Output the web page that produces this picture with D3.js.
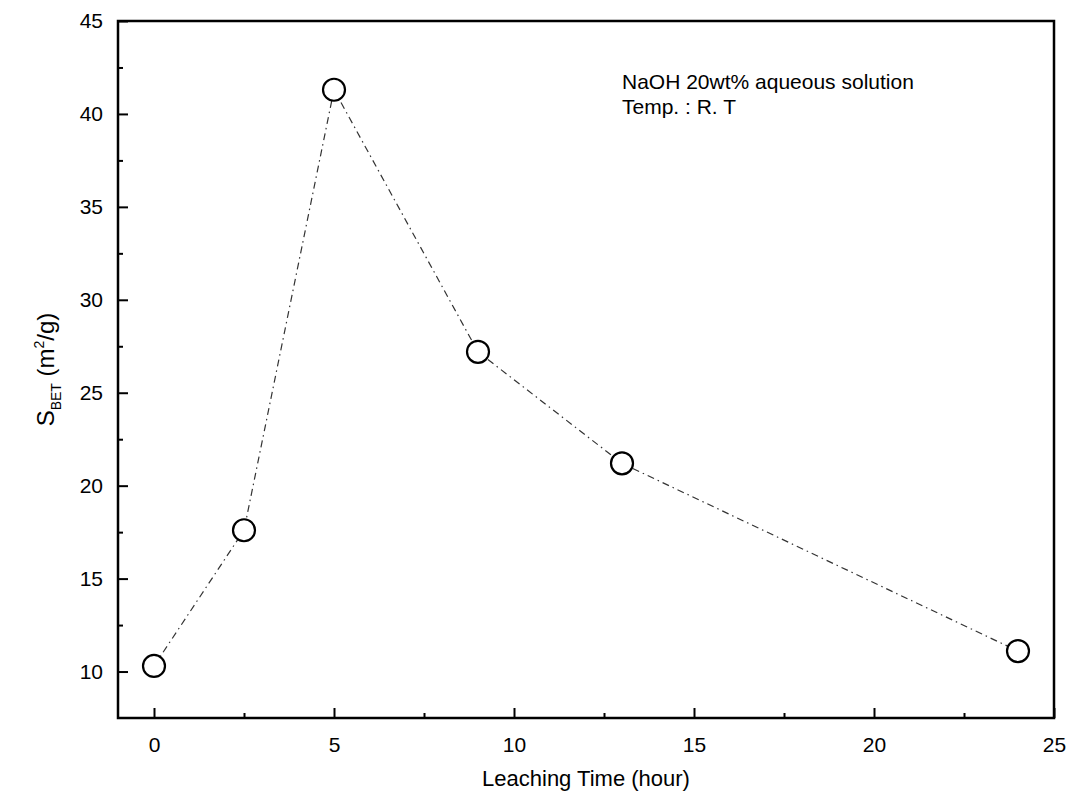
<!DOCTYPE html>
<html>
<head>
<meta charset="utf-8">
<script src="https://cdnjs.cloudflare.com/ajax/libs/d3/7.8.5/d3.min.js"></script>
<style>
  body { margin: 0; background: #fff; }
  text { font-family: Arial, "Liberation Sans", sans-serif; fill: #000; }
</style>
</head>
<body>
<div id="chart"></div>
<script>
// leaching time (hour) vs BET surface area (m2/g)
var hours = [0, 2.5, 5, 9, 13, 24];
var sbet = [10.3, 17.6, 41.3, 27.2, 21.2, 11.1];
var xTicks = [0, 5, 10, 15, 20, 25];
var yTicks = [10, 15, 20, 25, 30, 35, 40, 45];

var width = 1087, height = 801;
var margin = {left: 118, top: 21, right: 33, bottom: 83};

var svg = d3.select("#chart").append("svg")
    .attr("width", width)
    .attr("height", height);

var x = d3.scaleLinear().domain([-1, 25]).range([margin.left, width - margin.right]);
var y = d3.scaleLinear().domain([7.5, 45]).range([height - margin.bottom, margin.top]);

// frame
svg.append("rect")
    .attr("x", x(-1))
    .attr("y", y(45))
    .attr("width", x(25) - x(-1))
    .attr("height", y(7.5) - y(45))
    .attr("fill", "none")
    .attr("stroke", "#000")
    .attr("stroke-width", 2.5);

// bottom axis, ticks point inward
var xAxis = d3.axisBottom(x).tickValues(xTicks).tickSize(-10).tickPadding(19);
var gx = svg.append("g")
    .attr("transform", "translate(0," + y(7.5) + ")")
    .call(xAxis);
gx.select(".domain").remove();
gx.selectAll("line").attr("stroke-width", 2);
gx.selectAll("text").attr("font-size", 21);

var xMinor = d3.axisBottom(x).tickValues([2.5, 7.5, 12.5, 17.5, 22.5]).tickSize(-5).tickFormat("");
var gxm = svg.append("g")
    .attr("transform", "translate(0," + y(7.5) + ")")
    .call(xMinor);
gxm.select(".domain").remove();
gxm.selectAll("line").attr("stroke-width", 2);

// left axis
var yAxis = d3.axisLeft(y).tickValues(yTicks).tickSize(-10).tickPadding(15);
var gy = svg.append("g")
    .attr("transform", "translate(" + x(-1) + ",0)")
    .call(yAxis);
gy.select(".domain").remove();
gy.selectAll("line").attr("stroke-width", 2);
gy.selectAll("text").attr("font-size", 21);

var yMinor = d3.axisLeft(y).tickValues([12.5, 17.5, 22.5, 27.5, 32.5, 37.5, 42.5]).tickSize(-5).tickFormat("");
var gym = svg.append("g")
    .attr("transform", "translate(" + x(-1) + ",0)")
    .call(yMinor);
gym.select(".domain").remove();
gym.selectAll("line").attr("stroke-width", 2);

var pts = hours.map(function(h, i) { return {h: h, v: sbet[i]}; });

var line = d3.line()
    .x(function(d) { return x(d.h); })
    .y(function(d) { return y(d.v); });

svg.append("path")
    .datum(pts)
    .attr("d", line)
    .attr("fill", "none")
    .attr("stroke", "#333")
    .attr("stroke-width", 1.2)
    .attr("stroke-dasharray", "7,4,1.5,4");

svg.selectAll(".pt")
    .data(pts)
    .enter()
    .append("circle")
    .attr("class", "pt")
    .attr("cx", function(d) { return x(d.h); })
    .attr("cy", function(d) { return y(d.v); })
    .attr("r", 11)
    .attr("fill", "#fff")
    .attr("stroke", "#000")
    .attr("stroke-width", 2.2);

// axis titles
svg.append("text")
    .attr("x", (x(-1) + x(25)) / 2)
    .attr("y", 786)
    .attr("text-anchor", "middle")
    .attr("font-size", 22)
    .text("Leaching Time (hour)");

var yl = svg.append("text")
    .attr("transform", "translate(54," + ((y(7.5) + y(45)) / 2) + ") rotate(-90)")
    .attr("text-anchor", "middle")
    .attr("font-size", 24);
yl.append("tspan").text("S");
yl.append("tspan").attr("font-size", 14).attr("dy", 7).text("BET");
yl.append("tspan").attr("dy", -7).text(" (m");
yl.append("tspan").attr("font-size", 14).attr("dy", -10).text("2");
yl.append("tspan").attr("dy", 10).text("/g)");

// annotation
svg.append("text")
    .attr("x", 622)
    .attr("y", 89)
    .attr("font-size", 21)
    .text("NaOH 20wt% aqueous solution");
svg.append("text")
    .attr("x", 622)
    .attr("y", 114)
    .attr("font-size", 21)
    .text("Temp. : R. T");
</script>
</body>
</html>
